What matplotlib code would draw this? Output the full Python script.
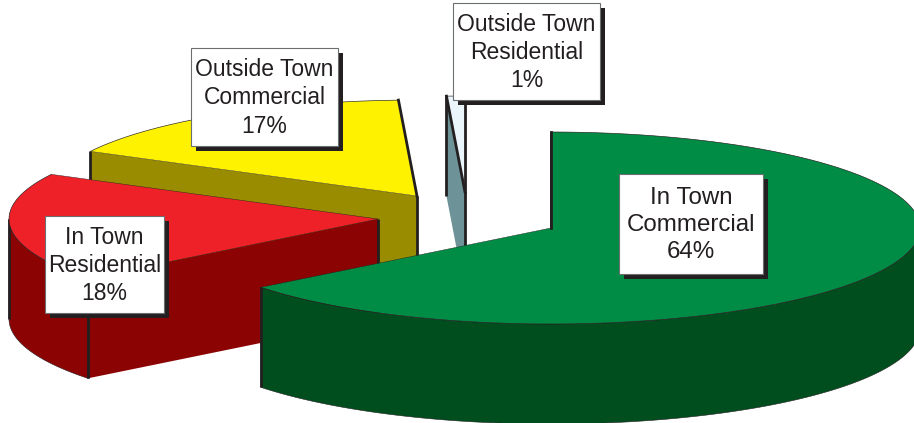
from matplotlib import pyplot as plt
from matplotlib.patches import Polygon, Rectangle
import numpy as np

plt.rcParams['font.family'] = ['Liberation Sans', 'DejaVu Sans']

categories = ['In Town\nCommercial', 'In Town\nResidential', 'Outside Town\nCommercial', 'Outside Town\nResidential']
values = [64.4, 18.3, 16.5, 0.8]
percent_labels = ['64%', '18%', '17%', '1%']

top_colors = ['#008C44', '#EE2129', '#FFF200', '#EAF6FC']
side_colors = ['#004E1E', '#8C0304', '#9A8C00', '#6D9298']
edge = '#231F20'

# exploded centres of each slice, in pixels
centers = [(551, 228), (378, 219), (417, 196), (465, 192)]
label_boxes = [(619, 174, 763, 274), (45, 216, 164, 313), (191, 48, 338, 146), (453, 3, 600, 100)]
label_sizes = [17.4, 16.5, 16.5, 16.5]
draw_order = [2, 3, 1, 0]

rx = 369
ry = 96
depth = 100

fig = plt.figure(figsize=(9.14, 4.23), dpi=100)
ax = fig.add_axes([0, 0, 1, 1])
ax.set_xlim(0, 914)
ax.set_ylim(423, 0)
ax.axis('off')


def rim(cx, cy, t):
    return np.column_stack([cx + rx * np.cos(t), cy - ry * np.sin(t)])


def vline(x, y, z):
    ax.plot([x, x], [y, y + depth], color=edge, lw=2, zorder=z, solid_capstyle='butt')


ends = 90 - np.cumsum([0] + values) * 3.6

for order, i in enumerate(draw_order):
    z = order * 10
    cx, cy = centers[i]
    t1 = np.radians(ends[i])
    t2 = np.radians(ends[i + 1])
    ts = np.linspace(t1, t2, 200)
    arc = rim(cx, cy, ts)
    down = np.array([0, depth])
    apex = np.array([cx, cy])

    # cut face at the start of the slice, the other one is hidden by the top
    p = arc[0]
    ax.add_patch(Polygon([apex, p, p + down, apex + down], fc=side_colors[i], ec='none', zorder=z + 1))
    vline(p[0], p[1], z + 2)
    vline(cx, cy, z + 2)

    # outer wall, front half only
    front = np.sin(ts) <= 0
    if front.any():
        wall = arc[front]
        ax.add_patch(Polygon(np.vstack([wall, (wall + down)[::-1]]), fc=side_colors[i], ec=edge, lw=0.4, zorder=z + 3))
        vline(wall[0][0], wall[0][1], z + 4)
        vline(wall[-1][0], wall[-1][1], z + 4)

    # top face
    ax.add_patch(Polygon(np.vstack([apex, arc]), fc=top_colors[i], ec='none', zorder=z + 5))
    ax.plot(arc[:, 0], arc[:, 1], color=edge, lw=0.45, zorder=z + 6)
    for p, t in ((arc[0], t1), (arc[-1], t2)):
        heavy = abs(np.cos(t)) < 0.1
        ax.plot([cx, p[0]], [cy, p[1]], color=edge, lw=2 if heavy else 0.3, zorder=z + 6)

for box, name, pct, size in zip(label_boxes, categories, percent_labels, label_sizes):
    x0, y0, x1, y1 = box
    ax.add_patch(Rectangle((x0 + 5, y0 + 5), x1 - x0, y1 - y0, fc=edge, ec='none', zorder=100))
    ax.add_patch(Rectangle((x0, y0), x1 - x0, y1 - y0, fc='white', ec='#6D6E71', lw=0.8, zorder=101))
    ax.text((x0 + x1) / 2, (y0 + y1) / 2 + 1, name + '\n' + pct, ha='center', va='center', fontsize=size,
            color=edge, linespacing=1.3, zorder=102)

fig.savefig('out.png', dpi=100)
